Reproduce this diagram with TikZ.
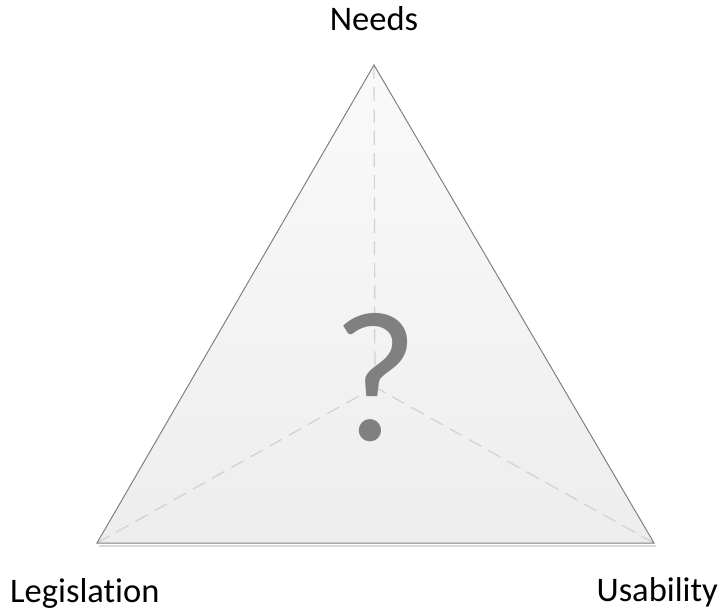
\documentclass[tikz,border=0pt]{standalone}
\usepackage{fontspec}
\setmainfont{Carlito}[Ligatures={NoCommon}]
\begin{document}
\begin{tikzpicture}[x=1pt,y=-1pt,
  label/.style={font=\fontsize{34.5}{36}\selectfont, text=black, inner sep=0pt},
  spoke/.style={draw=black!18, line width=1.2pt, dash pattern=on 14pt off 8pt},
  edge/.style={draw=black!50, line width=1pt, line join=miter}]
  \useasboundingbox (0,0) rectangle (725,610);
  % corners and centre of the triangle
  \coordinate (top) at (374,65);
  \coordinate (bl) at (97,543);
  \coordinate (br) at (654,543);
  \coordinate (mid) at (375,387);
  % soft shadow under the base
  \draw[black!15, line width=2pt] (99,545.5) -- (656,545.5);
  % shaded triangle
  \shade[top color=black!2, bottom color=black!7] (top) -- (br) -- (bl) -- cycle;
  % dashed spokes to the centre
  \draw[spoke] (top) -- (mid);
  \draw[spoke] (bl) -- (mid);
  \draw[spoke] (br) -- (mid);
  \draw[edge] (top) -- (br) -- (bl) -- cycle;
  % question mark
  \node[font=\fontsize{186}{190}\selectfont, text=black!50, inner sep=0pt, anchor=base] (q) at (376,440) {?};
  % corner labels
  \node[label, anchor=base] (needs) at (374,31) {Needs};
  \node[label, anchor=base west] (leg) at (10,602) {Legislation};
  \node[label, anchor=base east] (usa) at (718,601) {Usability};
\end{tikzpicture}
\end{document}
